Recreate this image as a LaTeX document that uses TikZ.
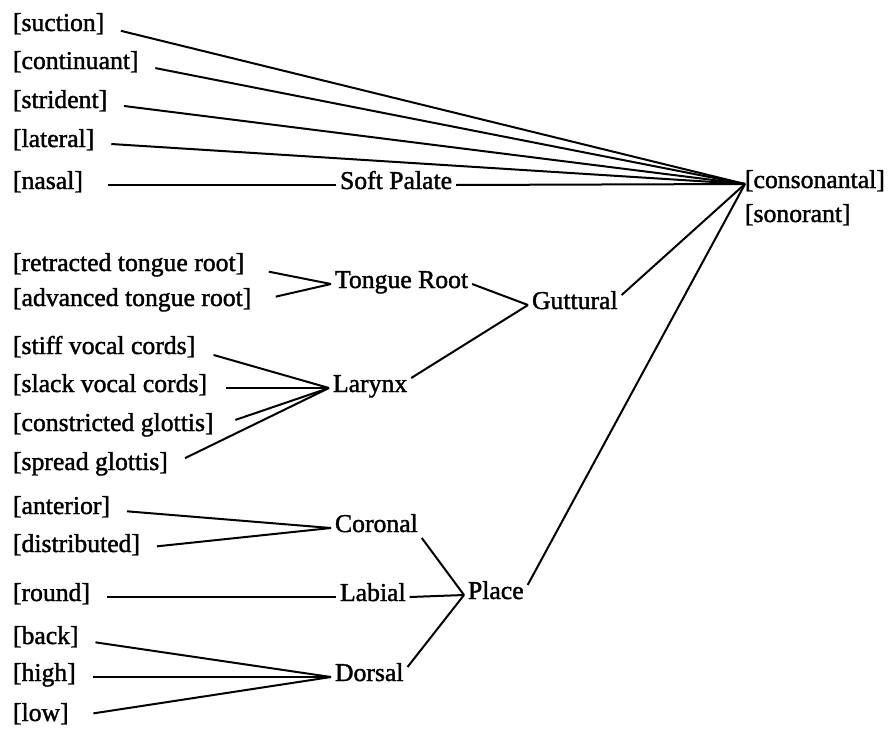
\documentclass[tikz,border=0pt]{standalone}
\usepackage{fontspec}
\setmainfont[FakeBold=1.5]{Liberation Serif}
\usepackage{tikz}
\tikzset{feat/.style={anchor=west,inner sep=0pt,text height=0.65em,text depth=0.25em},
 cls/.style={anchor=west,inner sep=0pt,outer xsep=2pt,text height=0.65em,text depth=0.25em},
 gap/.style={shorten <=#1},
 every path/.style={line width=1pt}}

\begin{document}
\begin{tikzpicture}[x=0.5pt,y=-0.5pt,font=\fontsize{12.85}{15}\selectfont]
\useasboundingbox (0,0) rectangle (892,728);
\node[feat] (suc) at (12,27) {[suction]};
\node[feat] (cont) at (12,65) {[continuant]};
\node[feat] (str) at (12,104) {[strident]};
\node[feat] (lat) at (12,143) {[lateral]};
\node[feat] (nas) at (12,185) {[nasal]};
\node[cls] (SP) at (336,185) {Soft Palate};
\node[cls,outer xsep=0pt] (cons) at (745,184) {[consonantal]};
\node[cls] (son) at (741,218) {[sonorant]};
\node[feat] (rtr) at (12,267) {[retracted tongue root]};
\node[feat] (atr) at (12,302) {[advanced tongue root]};
\node[cls] (TR) at (331,284) {Tongue Root};
\node[cls] (Gut) at (528,305) {Guttural};
\node[feat] (stiff) at (12,350) {[stiff vocal cords]};
\node[feat] (slack) at (12,388) {[slack vocal cords]};
\node[feat] (cg) at (12,427) {[constricted glottis]};
\node[feat] (sg) at (12,466) {[spread glottis]};
\node[cls] (Lar) at (329,388) {Larynx};
\node[feat] (ant) at (12,510) {[anterior]};
\node[feat] (dist) at (12,548) {[distributed]};
\node[cls] (Cor) at (331,528) {Coronal};
\node[feat] (rd) at (12,597) {[round]};
\node[cls] (Lab) at (336,597) {Labial};
\node[cls] (Pl) at (464,595) {Place};
\node[feat] (bk) at (12,640) {[back]};
\node[feat] (hi) at (12,677) {[high]};
\node[feat] (lo) at (12,717) {[low]};
\node[cls] (Dor) at (331,677) {Dorsal};
% to [consonantal]
\path[gap=8pt]
(suc.east) edge (cons.west)
(cont.east) edge (cons.west)
(str.east) edge (cons.west)
(lat.east) edge (cons.west)
;
\path
(SP.east) edge (cons.west)
(Gut.north east) edge (cons.west)
(Pl.north east) edge (cons.west)
;
\path[gap=12pt]
(nas.east) edge (SP.west)
(rtr.east) edge (TR.west)
(atr.east) edge (TR.west)
;
\path
(TR.east) edge (Gut.west)
(Lar.north east) edge (Gut.west)
;
\path[gap=9pt]
(stiff.east) edge (Lar.west)
(slack.east) edge (Lar.west)
(cg.east) edge[gap=11pt] (Lar.west)
(sg.east) edge (Lar.west)
;
\path[gap=8pt]
(ant.east) edge (Cor.west)
(dist.east) edge (Cor.west)
(rd.east) edge (Lab.west)
(bk.east) edge (Dor.west)
(hi.east) edge (Dor.west)
(lo.east) edge[gap=12pt] (Dor.west)
;
\path
(Cor.south east) edge (Pl.west)
(Lab.east) edge (Pl.west)
(Dor.north east) edge (Pl.west)
;
\end{tikzpicture}
\end{document}
